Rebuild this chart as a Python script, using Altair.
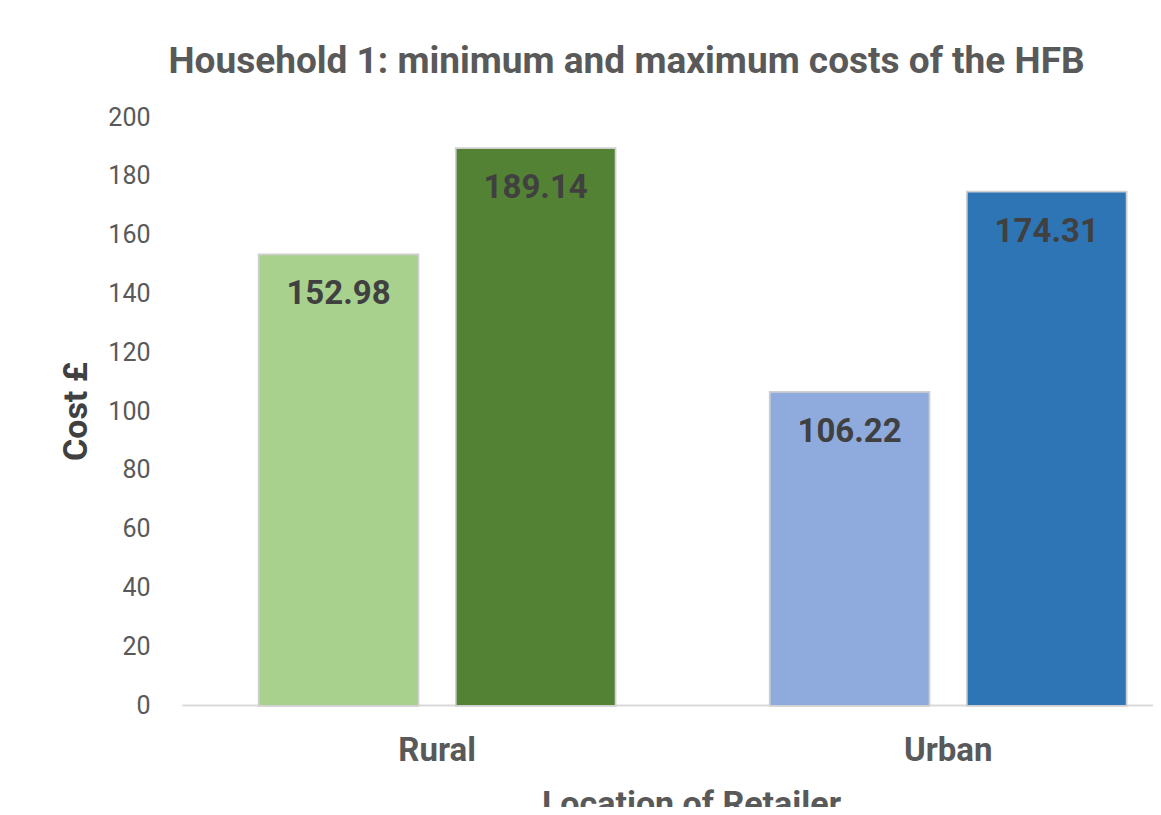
import altair as alt
import pandas as pd

locations = ["Rural", "Rural", "Urban", "Urban"]
measures = ["Minimum", "Maximum", "Minimum", "Maximum"]
costs = [152.98, 189.14, 106.22, 174.31]
bar_keys = ["Rural Minimum", "Rural Maximum", "Urban Minimum", "Urban Maximum"]
bar_colors = ["#A9D18E", "#548235", "#8FAADC", "#2E75B6"]
cost_labels = ["152.98", "189.14", "106.22", "174.31"]
y_ticks = [0, 20, 40, 60, 80, 100, 120, 140, 160, 180, 200]

df = pd.DataFrame({
    "location": locations,
    "measure": measures,
    "cost": costs,
    "key": bar_keys,
    "label": cost_labels,
})

FONT = "Roboto"

x_enc = alt.X(
    "location:N",
    sort=["Rural", "Urban"],
    scale=alt.Scale(paddingInner=0.305, paddingOuter=0.1025, align=0.74),
    axis=alt.Axis(
        title="Location of Retailer",
        labelAngle=0,
        labelFont=FONT,
        labelFontSize=33,
        labelFontWeight="bold",
        labelColor="#595959",
        labelPadding=29,
        domainColor="#D9D9D9",
        domainWidth=2,
        ticks=False,
        titleFont=FONT,
        titleFontSize=34,
        titleFontWeight="bold",
        titleColor="#595959",
        titleX=509,
        titleY=82,
        titleBaseline="top",
    ),
)
xo_enc = alt.XOffset(
    "measure:N",
    sort=["Minimum", "Maximum"],
    scale=alt.Scale(paddingInner=0.198, paddingOuter=0),
)
y_enc = alt.Y(
    "cost:Q",
    scale=alt.Scale(domain=[0, 200], nice=False),
    axis=alt.Axis(
        values=y_ticks,
        grid=False,
        domain=False,
        ticks=False,
        labelPadding=32,
        labelFont=FONT,
        labelFontSize=25,
        labelColor="#595959",
        title="Cost £",
        titleFont=FONT,
        titleFontSize=34,
        titleFontWeight="bold",
        titleColor="#404040",
        titlePadding=14,
    ),
)

base = alt.Chart(df).encode(x=x_enc, xOffset=xo_enc, y=y_enc)

shadow = base.mark_bar(color="#FFFFFF", stroke="#D0D0D0", strokeWidth=3.5)

bars = base.mark_bar().encode(
    color=alt.Color("key:N", scale=alt.Scale(domain=bar_keys, range=bar_colors), legend=None)
)

labels = base.mark_text(
    baseline="top", dy=23, font=FONT, fontSize=33, fontWeight="bold", color="#404040"
).encode(text="label:N")

chart = (
    alt.layer(shadow, bars, labels)
    .properties(
        width=971,
        height=588,
        autosize=alt.AutoSizeParams(type="none"),
        padding={"left": 174, "top": 109, "right": 0, "bottom": 102},
        title=alt.TitleParams(
            "Household 1: minimum and maximum costs of the HFB",
            font=FONT,
            fontSize=37,
            fontWeight="bold",
            color="#595959",
            anchor="middle",
            frame="group",
            dx=-41,
            offset=24,
        ),
    )
    .configure_view(stroke=None)
)

chart.save("out.html", embed_options={"renderer": "svg", "actions": False})
